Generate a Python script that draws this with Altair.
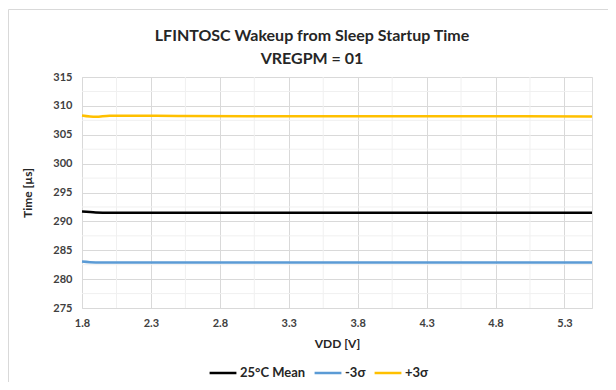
import altair as alt
import pandas as pd

vdd = [1.8, 1.9, 2.0, 2.2, 2.5, 3.0, 3.5, 4.0, 4.5, 5.0, 5.5]
mean_25c = [291.7, 291.55, 291.5, 291.5, 291.5, 291.5, 291.5, 291.5, 291.5, 291.5, 291.5]
minus_3s = [283.05, 282.9, 282.9, 282.9, 282.9, 282.9, 282.9, 282.9, 282.9, 282.9, 282.9]
plus_3s = [308.35, 308.1, 308.3, 308.3, 308.25, 308.2, 308.2, 308.2, 308.2, 308.2, 308.15]

series_names = ["25°C Mean", "-3σ", "+3σ"]
series_colors = ["#000000", "#5B9BD5", "#FFC000"]

x_major = [1.8, 2.3, 2.8, 3.3, 3.8, 4.3, 4.8, 5.3]
x_minor = [2.05, 2.55, 3.05, 3.55, 4.05, 4.55, 5.05]
y_major = [275, 280, 285, 290, 295, 300, 305, 310, 315]
y_minor = [277.5, 282.5, 287.5, 292.5, 297.5, 302.5, 307.5, 312.5]

rows = []
for name, vals in zip(series_names, [mean_25c, minus_3s, plus_3s]):
    for x, v in zip(vdd, vals):
        rows.append({"VDD": x, "Time": v, "Series": name})
df = pd.DataFrame(rows)

FONT = "Lato"
xscale = alt.Scale(domain=[1.8, 5.5], nice=False, zero=False)
yscale = alt.Scale(domain=[275, 315], nice=False, zero=False)

x_axis = alt.Axis(
    values=x_major, format=".1f", title="VDD [V]", grid=True,
    gridColor="#d9d9d9", domain=False, ticks=False, labelPadding=9,
    labelFont=FONT, labelFontSize=11, labelFontWeight="bold",
    labelColor="#404040", titleFont=FONT, titleFontSize=12,
    titleFontWeight="bold", titleColor="#262626", titlePadding=10,
    labelFlush=False, labelOverlap=False,
)
y_axis = alt.Axis(
    values=y_major, title="Time [µs]", grid=True, gridColor="#d9d9d9",
    domain=False, ticks=False, labelPadding=10, labelFont=FONT,
    labelFontSize=11, labelFontWeight="bold", labelColor="#404040",
    titleFont=FONT, titleFontSize=12, titleFontWeight="bold",
    titleColor="#262626", titlePadding=18, labelOverlap=False,
)

xminor = alt.Chart(pd.DataFrame({"x": x_minor})).mark_rule(
    color="#f0f0f0", strokeWidth=1
).encode(x=alt.X("x:Q", scale=xscale, axis=x_axis))

yminor = alt.Chart(pd.DataFrame({"y": y_minor})).mark_rule(
    color="#f0f0f0", strokeWidth=1
).encode(y=alt.Y("y:Q", scale=yscale, axis=y_axis))

frame = alt.Chart(pd.DataFrame({"a": [0]})).mark_rect(
    fill=None, stroke="#d9d9d9", strokeWidth=1
).encode(
    x=alt.value(-73.5), x2=alt.value(700), y=alt.value(-67.5), y2=alt.value(500)
)

lines = alt.Chart(df).mark_line(strokeWidth=2.5, interpolate="monotone").encode(
    x=alt.X("VDD:Q", scale=xscale, axis=x_axis),
    y=alt.Y("Time:Q", scale=yscale, axis=y_axis),
    color=alt.Color(
        "Series:N",
        scale=alt.Scale(domain=series_names, range=series_colors),
        sort=series_names,
        legend=alt.Legend(
            title=None, orient="none", direction="horizontal",
            legendX=126, legendY=281, symbolType="stroke",
            symbolStrokeWidth=2.5, symbolSize=720, labelFont=FONT,
            labelFontSize=13, labelFontWeight="bold", labelColor="#262626",
            columnPadding=3, symbolOffset=0, labelOffset=2,
        ),
    ),
)

chart = alt.layer(xminor, yminor, frame, lines).properties(
    width=510,
    height=231,
    padding={"left": 74, "top": 69, "right": 16, "bottom": 74},
    autosize=alt.AutoSizeParams(type="none"),
    title=alt.TitleParams(
        text=["LFINTOSC Wakeup from Sleep Startup Time", "VREGPM = 01"],
        font=FONT, fontSize=16, fontWeight="bold", color="#262626",
        anchor="middle", frame="group", dx=-25, offset=-58, lineHeight=23,
    ),
).configure_view(stroke="#d9d9d9", strokeWidth=1).configure(background="white")

chart.save("out.html", embed_options={"renderer": "svg", "actions": False})
